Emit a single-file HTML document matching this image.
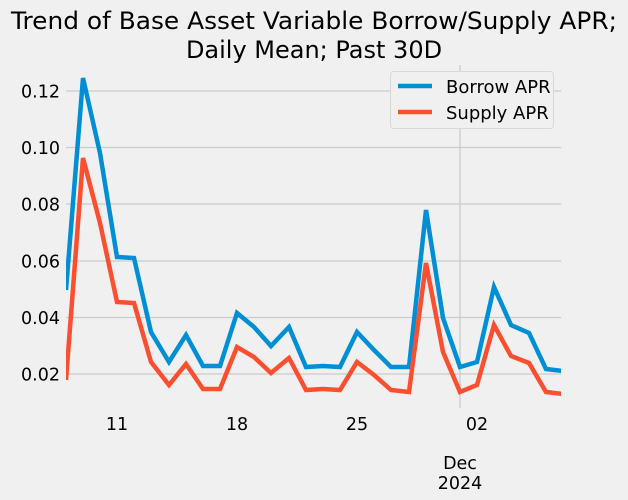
<!DOCTYPE html>
<html><head><style>body{margin:0;background:#f0f0f0}svg{display:block}</style></head><body>
<svg width="628" height="500" xmlns="http://www.w3.org/2000/svg" font-family="DejaVu Sans, Liberation Sans, sans-serif">
<rect width="628" height="500" fill="#f0f0f0"/>
<text x="314" y="29" font-size="24" text-anchor="middle" fill="#000" textLength="606" lengthAdjust="spacingAndGlyphs">Trend of Base Asset Variable Borrow/Supply APR;</text>
<text x="314" y="58" font-size="24" text-anchor="middle" fill="#000">Daily Mean; Past 30D</text>
<g stroke="#cbcbcb" stroke-width="1.3">
<line x1="66" x2="561" y1="91" y2="91"/><line x1="66" x2="561" y1="147.5" y2="147.5"/><line x1="66" x2="561" y1="204" y2="204"/>
<line x1="66" x2="561" y1="261" y2="261"/><line x1="66" x2="561" y1="317.5" y2="317.5"/><line x1="66" x2="561" y1="374" y2="374"/>
<line x1="460" x2="460" y1="65" y2="408"/>
</g>
<g font-size="17.5" fill="#000">
<text x="60" y="97.5" text-anchor="end">0.12</text><text x="60" y="154" text-anchor="end">0.10</text><text x="60" y="210.5" text-anchor="end">0.08</text>
<text x="60" y="267.5" text-anchor="end">0.06</text><text x="60" y="324" text-anchor="end">0.04</text><text x="60" y="380.5" text-anchor="end">0.02</text>
<g text-anchor="middle"><text x="117" y="430">11</text><text x="237" y="430">18</text><text x="357" y="430">25</text><text x="477" y="430">02</text>
<text x="460" y="469">Dec</text><text x="460" y="489">2024</text></g>
</g>
<clipPath id="c"><rect x="66" y="60" width="495" height="350"/></clipPath>
<g clip-path="url(#c)" fill="none" stroke-width="4.5" stroke-linejoin="miter">
<polyline stroke="#008fd5" points="66,290 83,78 100,153 117,257 134,258 151,332 169,362 186,335 203,366 220,366 237,313 254,327 271,346 289,327 306,367 323,366 340,367 357,332 374,350 391,367 409,367 426,210 443,318 460,367 477,362 494,287 511,325 529,333 546,369 563,371"/>
<polyline stroke="#fc4f30" points="66,380 83,158 100,223 117,302 134,303 151,362 169,385 186,364 203,389 220,389 237,347 254,357 271,373 289,358 306,390 323,389 340,390 357,362 374,375 391,390 409,392 426,263 443,352 460,392 477,385 494,325 511,356 529,363 546,392 563,394"/>
</g>
<rect x="390.5" y="71.5" width="163" height="57" rx="3" fill="#f0f0f0" stroke="#d8d8d8"/>
<line x1="398" x2="432" y1="86" y2="86" stroke="#008fd5" stroke-width="4.5"/>
<line x1="398" x2="432" y1="112" y2="112" stroke="#fc4f30" stroke-width="4.5"/>
<text x="446" y="93" font-size="18">Borrow APR</text>
<text x="446" y="119" font-size="18">Supply APR</text>
</svg>
</body></html>
